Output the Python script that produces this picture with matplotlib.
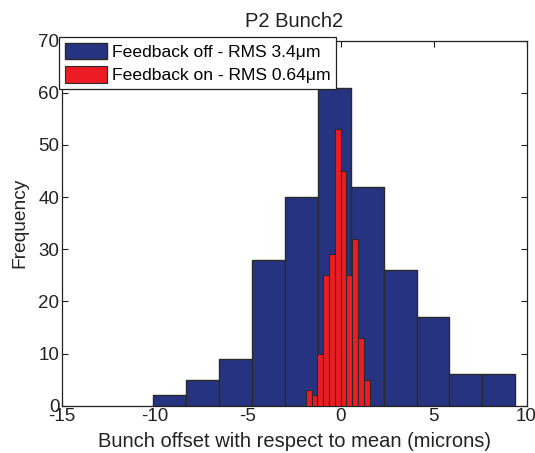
import matplotlib
matplotlib.use("Agg")
import matplotlib.pyplot as plt
import numpy as np

plt.rcParams['font.family'] = ['Liberation Sans', 'DejaVu Sans']
plt.rcParams['axes.unicode_minus'] = False

# Data
off_edges = [-10.06, -8.29, -6.52, -4.75, -2.98, -1.22, 0.55, 2.32, 4.09, 5.86, 7.62, 9.39]
off_counts = [2, 5, 9, 28, 40, 61, 42, 26, 17, 6, 6]
on_edges = [-1.86, -1.55, -1.24, -0.92, -0.61, -0.30, 0.01, 0.32, 0.63, 0.95, 1.26, 1.57]
on_counts = [3, 2, 10, 25, 29, 53, 45, 25, 32, 13, 5]

title = "P2 Bunch2"
xlabel = "Bunch offset with respect to mean (microns)"
ylabel = "Frequency"
label_off = "Feedback off - RMS 3.4\u03bcm"
label_on = "Feedback on - RMS 0.64\u03bcm"
xticks = [-15, -10, -5, 0, 5, 10]
yticks = [0, 10, 20, 30, 40, 50, 60, 70]

blue = "#263381"
red = "#ED1C24"
edge = "#2a2a2a"
txt = "#222222"

fig = plt.figure(figsize=(5.35, 4.53), dpi=100)
ax = fig.add_axes([61.5/535, 1-405.7/453, (526.5-61.5)/535, (405.7-40.7)/453])

e = np.array(off_edges)
ax.bar(e[:-1], off_counts, width=np.diff(e), align='edge', color=blue,
       edgecolor=edge, linewidth=1.0, label=label_off, zorder=2)
e2 = np.array(on_edges)
ax.bar(e2[:-1], on_counts, width=np.diff(e2), align='edge', color=red,
       edgecolor=edge, linewidth=0.8, label=label_on, zorder=3)

ax.set_xlim(-15, 10)
ax.set_ylim(0, 70)
ax.set_xticks(xticks)
ax.set_yticks(yticks)
ax.tick_params(direction='in', top=True, right=True, length=4, width=0.8,
               labelsize=13.5, colors=txt, pad=1.5)
for s in ax.spines.values():
    s.set_color(txt)
    s.set_linewidth(0.9)

ax.set_title(title, fontsize=14.5, color=txt, pad=10)
ax.set_xlabel(xlabel, fontsize=14.5, color=txt, labelpad=5)
ax.set_ylabel(ylabel, fontsize=13.8, color=txt, labelpad=7)

leg = ax.legend(loc='upper left', bbox_to_anchor=(59/535, 1-37/453),
                bbox_transform=fig.transFigure, fontsize=12.6,
                frameon=True, fancybox=False, framealpha=1,
                edgecolor=txt, borderpad=0.32, handlelength=2.4,
                handleheight=1.05, handletextpad=0.3, labelspacing=0.38,
                borderaxespad=0)
leg.get_frame().set_linewidth(0.9)
leg.set_zorder(5)

fig.savefig("out.png", dpi=100)
